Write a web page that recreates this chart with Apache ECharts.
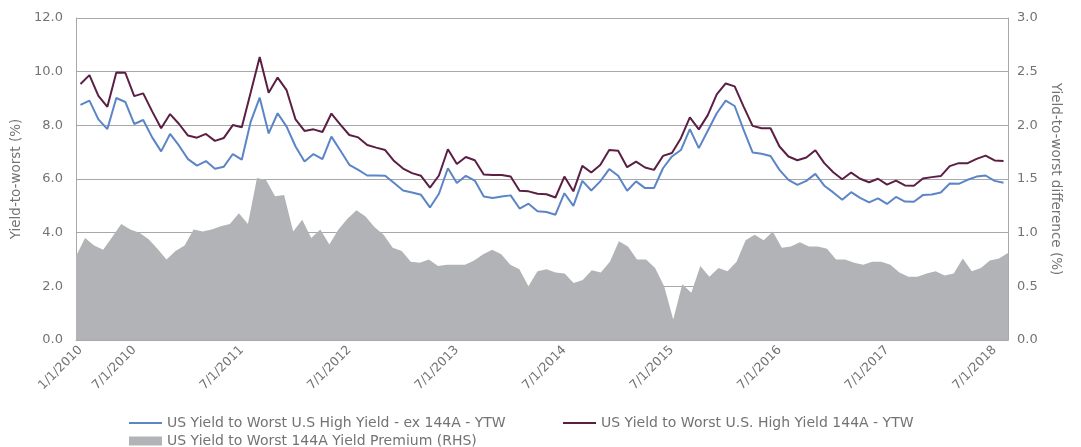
<!DOCTYPE html>
<html>
<head>
<meta charset="utf-8">
<script src="https://cdn.jsdelivr.net/npm/echarts@6/dist/echarts.min.js"></script>
<style>html,body{margin:0;padding:0;background:#fff}#c{width:1081px;height:447px}</style>
</head>
<body>
<div id="c"></div>
<script>
// Monthly categories, Jan 2010 .. Aug 2018
const categories = [];
for (let y = 2010; y <= 2018; y++) {
  for (let m = 1; m <= 12; m++) {
    if (y === 2018 && m > 8) break;
    categories.push(m + '/1/' + y);
  }
}
const leftTicks = { min: 0, max: 12, interval: 2 };
const rightTicks = { min: 0, max: 3, interval: 0.5 };

const exYTW = [8.76,8.92,8.22,7.86,9.02,8.87,8.05,8.20,7.55,7.03,7.68,7.24,6.74,6.50,6.67,6.38,6.46,6.93,6.72,8.14,
  9.03,7.70,8.45,7.95,7.21,6.65,6.93,6.74,7.58,7.06,6.53,6.34,6.13,6.13,6.12,5.85,5.57,5.50,5.41,4.94,
  5.45,6.40,5.85,6.12,5.94,5.35,5.29,5.35,5.39,4.90,5.08,4.80,4.77,4.67,5.47,5.00,5.93,5.57,5.91,6.37,
  6.12,5.56,5.91,5.66,5.66,6.40,6.84,7.08,7.86,7.15,7.80,8.45,8.92,8.72,7.83,6.99,6.94,6.86,6.34,5.97,
  5.78,5.93,6.19,5.75,5.50,5.23,5.51,5.30,5.13,5.28,5.07,5.33,5.16,5.15,5.40,5.42,5.50,5.83,5.82,5.97,
  6.09,6.13,5.93,5.86];
const ytw144A = [9.54,9.87,9.10,8.69,9.97,9.96,9.09,9.19,8.52,7.89,8.42,8.05,7.62,7.54,7.68,7.42,7.53,8.01,7.93,9.23,
  10.55,9.21,9.78,9.31,8.22,7.79,7.85,7.75,8.44,8.03,7.64,7.55,7.27,7.17,7.08,6.67,6.39,6.22,6.12,5.68,
  6.13,7.11,6.56,6.82,6.70,6.17,6.15,6.15,6.09,5.56,5.54,5.45,5.43,5.31,6.09,5.54,6.49,6.24,6.52,7.08,
  7.05,6.44,6.65,6.43,6.34,6.86,6.97,7.52,8.30,7.85,8.38,9.15,9.56,9.45,8.70,7.98,7.89,7.89,7.21,6.84,
  6.70,6.80,7.07,6.59,6.25,5.99,6.24,6.01,5.88,6.01,5.79,5.94,5.76,5.75,6.02,6.07,6.11,6.48,6.59,6.59,
  6.75,6.87,6.69,6.67];
const premium = [0.78,0.95,0.88,0.84,0.96,1.08,1.03,1.00,0.94,0.85,0.75,0.83,0.88,1.03,1.01,1.03,1.06,1.08,1.18,1.08,
  1.51,1.49,1.34,1.35,1.01,1.12,0.95,1.03,0.89,1.03,1.13,1.21,1.15,1.05,0.98,0.86,0.83,0.73,0.72,0.75,
  0.69,0.70,0.70,0.70,0.74,0.80,0.84,0.80,0.70,0.66,0.50,0.64,0.66,0.63,0.62,0.53,0.56,0.65,0.63,0.73,
  0.92,0.87,0.75,0.75,0.67,0.50,0.19,0.52,0.44,0.69,0.59,0.67,0.64,0.73,0.93,0.98,0.93,1.01,0.86,0.87,
  0.91,0.87,0.87,0.85,0.75,0.75,0.72,0.70,0.73,0.73,0.70,0.63,0.59,0.59,0.62,0.64,0.60,0.62,0.76,0.64,
  0.67,0.74,0.76,0.81];

const names = ['US Yield to Worst U.S High Yield - ex 144A - YTW',
               'US Yield to Worst U.S. High Yield 144A - YTW',
               'US Yield to Worst 144A Yield Premium (RHS)'];
const FONT = 'DejaVu Sans';
const TXT = '#737373';
const GRID = '#a8a8a8';

const chart = echarts.init(document.getElementById('c'));
const showIdx = (i) => i === 0 || (i - 6) % 12 === 0;
chart.setOption({
  animation: false,
  textStyle: { fontFamily: FONT },
  grid: { left: 76, right: 73, top: 18, bottom: 107, containLabel: false },
  legend: [
    { left: 124, top: 411, data: [names[0]], icon: 'rect', itemWidth: 33, itemHeight: 2, itemGap: 10,
      textStyle: { color: TXT, fontSize: 14, fontFamily: FONT } },
    { left: 558, top: 411, data: [names[1]], icon: 'rect', itemWidth: 33, itemHeight: 2,
      textStyle: { color: TXT, fontSize: 14, fontFamily: FONT } },
    { left: 124, top: 429, data: [names[2]], icon: 'rect', itemWidth: 33, itemHeight: 9,
      textStyle: { color: TXT, fontSize: 14, fontFamily: FONT } }
  ],
  xAxis: [
    { type: 'category', data: categories, boundaryGap: true,
      axisLine: { show: true, lineStyle: { color: GRID } },
      axisTick: { show: false },
      axisLabel: { interval: (i) => showIdx(i), rotate: 45, color: TXT, fontSize: 12.5, fontFamily: FONT, margin: 8 } },
    { type: 'category', data: categories, boundaryGap: false, show: false }
  ],
  yAxis: [
    { type: 'value', min: leftTicks.min, max: leftTicks.max, interval: leftTicks.interval,
      name: 'Yield-to-worst (%)', nameLocation: 'middle', nameGap: 52,
      nameTextStyle: { color: TXT, fontSize: 13.5, fontFamily: FONT },
      axisLine: { show: true, lineStyle: { color: GRID } },
      axisTick: { show: false },
      axisLabel: { formatter: (v) => v.toFixed(1), color: TXT, fontSize: 13, fontFamily: FONT, margin: 13 },
      splitLine: { show: true, lineStyle: { color: GRID, width: 1 } } },
    { type: 'value', min: rightTicks.min, max: rightTicks.max, interval: rightTicks.interval, position: 'right',
      name: 'Yield-to-worst difference (%)', nameLocation: 'middle', nameGap: 37, nameRotate: -90,
      nameTextStyle: { color: TXT, fontSize: 13.5, fontFamily: FONT },
      axisLine: { show: true, lineStyle: { color: GRID } },
      axisTick: { show: false },
      axisLabel: { formatter: (v) => v.toFixed(1), color: TXT, fontSize: 13, fontFamily: FONT, margin: 9 },
      splitLine: { show: false } }
  ],
  series: [
    { name: names[2], type: 'line', xAxisIndex: 1, yAxisIndex: 1, data: premium,
      symbol: 'none', lineStyle: { width: 0 }, itemStyle: { color: '#b2b3b6' },
      areaStyle: { color: '#b2b3b6', opacity: 1 }, z: 1 },
    { name: names[0], type: 'line', xAxisIndex: 0, yAxisIndex: 0, data: exYTW,
      symbol: 'none', lineStyle: { width: 2, color: '#5b85c6' }, itemStyle: { color: '#5b85c6' }, z: 3 },
    { name: names[1], type: 'line', xAxisIndex: 0, yAxisIndex: 0, data: ytw144A,
      symbol: 'none', lineStyle: { width: 2, color: '#5a1f43' }, itemStyle: { color: '#5a1f43' }, z: 4 }
  ]
});
</script>
</body>
</html>
